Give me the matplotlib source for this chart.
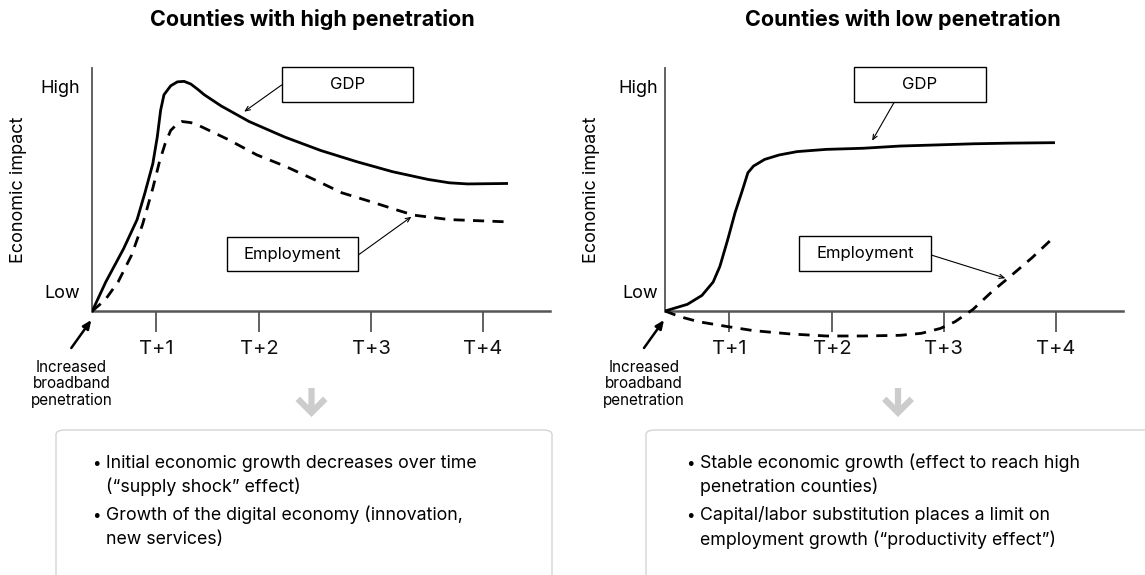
import matplotlib
matplotlib.use("Agg")
import matplotlib.pyplot as plt
from matplotlib.patches import Rectangle, FancyBboxPatch, FancyArrowPatch

plt.rcParams['font.family'] = ['Inter', 'DejaVu Sans']

W, H = 1145, 575

# --- data (x in periods from shock, y in relative impact) ---
tick_pos = [0.57, 1.49, 2.49, 3.49]
tick_labels = ['T+1', 'T+2', 'T+3', 'T+4']

high_gdp_x = [0, 0.12, 0.28, 0.40, 0.47, 0.54, 0.58, 0.61, 0.64, 0.70, 0.76, 0.82, 0.88, 0.94,
              1.00, 1.15, 1.40, 1.72, 2.04, 2.36, 2.68, 3.00, 3.19, 3.35, 3.70]
high_gdp_y = [0, 0.13, 0.28, 0.41, 0.53, 0.66, 0.78, 0.90, 0.97, 1.01, 1.028, 1.03, 1.018, 0.995,
              0.97, 0.92, 0.85, 0.78, 0.72, 0.67, 0.625, 0.59, 0.575, 0.57, 0.572]
high_emp_x = [0, 0.115, 0.23, 0.35, 0.45, 0.54, 0.60, 0.65, 0.70, 0.76, 0.80, 0.88, 0.96,
              1.21, 1.47, 1.72, 1.98, 2.23, 2.49, 2.74, 2.87, 3.19, 3.70]
high_emp_y = [0, 0.05, 0.13, 0.25, 0.39, 0.55, 0.67, 0.75, 0.81, 0.84, 0.85, 0.845, 0.83,
              0.77, 0.70, 0.65, 0.59, 0.53, 0.49, 0.45, 0.43, 0.41, 0.40]

low_gdp_x = [0, 0.20, 0.33, 0.43, 0.49, 0.56, 0.625, 0.69, 0.74, 0.79, 0.89, 1.02, 1.18,
             1.44, 1.77, 2.10, 2.43, 2.75, 3.08, 3.47]
low_gdp_y = [0, 0.03, 0.07, 0.13, 0.20, 0.32, 0.44, 0.54, 0.62, 0.65, 0.68, 0.70, 0.715,
             0.725, 0.73, 0.74, 0.745, 0.75, 0.753, 0.755]
low_emp_x = [0, 0.13, 0.30, 0.56, 0.79, 1.12, 1.44, 1.77, 2.10, 2.29, 2.46, 2.59, 2.75,
             2.92, 3.08, 3.28, 3.47]
low_emp_y = [0, -0.025, -0.048, -0.07, -0.088, -0.103, -0.112, -0.112, -0.109, -0.10, -0.078,
             -0.048, 0.007, 0.087, 0.154, 0.24, 0.33]

titles = ['Counties with high penetration', 'Counties with low penetration']
bullets_high = [['Initial economic growth decreases over time', '(\u201csupply shock\u201d effect)'],
                ['Growth of the digital economy (innovation,', 'new services)']]
bullets_low = [['Stable economic growth (effect to reach high', 'penetration counties)'],
               ['Capital/labor substitution places a limit on', 'employment growth (\u201cproductivity effect\u201d)']]


def fx(x):
    return x / W


def fy(y):
    return 1 - y / H


fig = plt.figure(figsize=(W / 100, H / 100), dpi=100)
fig.patch.set_facecolor('white')

AX_COLOR = '#555555'


def make_panel(x0, curves, title, title_cx, arrows, boxes, high_dx, bullets, box_x0, box_x1, arrow_cx, bullet_x):
    # axes spans origin (y=311) -> ylim -0.2..1.09 ; 223 px per unit, 112 px per x unit
    ax = fig.add_axes([fx(x0), fy(355.6), 458 / W, (355.6 - 68) / H])
    ax.set_xlim(0, 4.09)
    ax.set_ylim(-0.2, 1.09)
    for s in ['top', 'right']:
        ax.spines[s].set_visible(False)
    ax.spines['bottom'].set_position(('data', 0))
    ax.spines['left'].set_bounds(0, 1.09)
    ax.spines['left'].set_color(AX_COLOR)
    ax.spines['bottom'].set_color(AX_COLOR)
    ax.spines['left'].set_linewidth(1.3)
    ax.spines['bottom'].set_linewidth(1.8)
    ax.set_xticks(tick_pos)
    ax.set_xticklabels(tick_labels, fontsize=14.5, color='#111111')
    ax.tick_params(axis='x', direction='out', length=15, width=1.3, color=AX_COLOR, pad=6)
    ax.set_yticks([])
    ax.patch.set_alpha(0)

    (gx, gy), (ex, ey) = curves
    ax.plot(gx, gy, color='black', lw=2.0, solid_joinstyle='round', zorder=3)
    ax.plot(ex, ey, color='black', lw=2.0, ls=(0, (4, 3)), zorder=3)

    ax.text(-high_dx, 1.0, 'High', ha='right', va='center', fontsize=13, transform=ax.transData)
    ax.text(-high_dx, 0.08, 'Low', ha='right', va='center', fontsize=13, transform=ax.transData)

    # y label
    fig.text(fx(x0 - 74), fy(190), 'Economic impact', rotation=90, ha='center', va='center', fontsize=13)

    # title
    fig.text(fx(title_cx), fy(20), title, ha='center', va='center', fontsize=15.5, fontweight='bold')

    # label boxes with arrows
    for (bx0, by0, bx1, by1, label), (sx, sy, tx, ty) in zip(boxes, arrows):
        fig.add_artist(Rectangle((fx(bx0), fy(by1)), (bx1 - bx0) / W, (by1 - by0) / H,
                                 transform=fig.transFigure, facecolor='white', edgecolor='black', lw=1.0))
        fig.text(fx((bx0 + bx1) / 2), fy((by0 + by1) / 2), label, ha='center', va='center', fontsize=12)
        ax.annotate('', xy=(tx, ty), xycoords='data', xytext=(sx, H - sy), textcoords='figure pixels',
                    arrowprops=dict(arrowstyle='->,head_length=0.35,head_width=0.15', lw=0.8, color='black',
                                    shrinkA=0, shrinkB=0))

    # shock arrow and label
    ax.annotate('', xy=(x0 - 1, H - 320), xycoords='figure pixels', xytext=(x0 - 21, H - 348),
                textcoords='figure pixels',
                arrowprops=dict(arrowstyle='-|>,head_length=0.5,head_width=0.22', lw=1.8, color='black',
                                shrinkA=0, shrinkB=0))
    for i, line in enumerate(['Increased', 'broadband', 'penetration']):
        fig.text(fx(x0 - 21), fy(367 + 16.5 * i), line, ha='center', va='center', fontsize=11)

    # grey down arrow
    fig.add_artist(FancyArrowPatch((fx(arrow_cx), fy(388)), (fx(arrow_cx), fy(417)),
                                   transform=fig.transFigure,
                                   arrowstyle='->,head_length=0.45,head_width=0.45', mutation_scale=22,
                                   lw=4.5, color='#cccccc', shrinkA=0, shrinkB=0, joinstyle='miter',
                                   capstyle='butt'))

    # bullet box
    fig.add_artist(FancyBboxPatch((fx(box_x0), fy(600)), (box_x1 - box_x0) / W, (600 - 430) / H,
                                  boxstyle='round,pad=0,rounding_size=0.008', transform=fig.transFigure,
                                  facecolor='white', edgecolor='#d4d4d4', lw=1.0))
    line_y = [[463, 487], [515, 540]]
    for b, ys in zip(bullets, line_y):
        fig.text(fx(bullet_x), fy(ys[0]), '\u2022', ha='left', va='center', fontsize=11)
        for line, yy in zip(b, ys):
            fig.text(fx(bullet_x + 14.5), fy(yy), line, ha='left', va='center', fontsize=12.8)
    return ax


make_panel(92.3, [(high_gdp_x, high_gdp_y), (high_emp_x, high_emp_y)], titles[0], 312,
           arrows=[(281.6, 85, 1.356, 0.894), (358.3, 255, 2.85, 0.423)],
           boxes=[(282, 67, 413, 102, 'GDP'), (227, 237, 358, 271, 'Employment')],
           high_dx=0.11, bullets=bullets_high, box_x0=56, box_x1=552, arrow_cx=311.5, bullet_x=92)

make_panel(665, [(low_gdp_x, low_gdp_y), (low_emp_x, low_emp_y)], titles[1], 903,
           arrows=[(894.5, 101.7, 1.85, 0.764), (931.2, 255, 3.04, 0.147)],
           boxes=[(854, 67, 986, 102, 'GDP'), (799, 236, 931, 271, 'Employment')],
           high_dx=0.065, bullets=bullets_low, box_x0=646, box_x1=1160, arrow_cx=898, bullet_x=686)

fig.savefig('out.png', dpi=100)
